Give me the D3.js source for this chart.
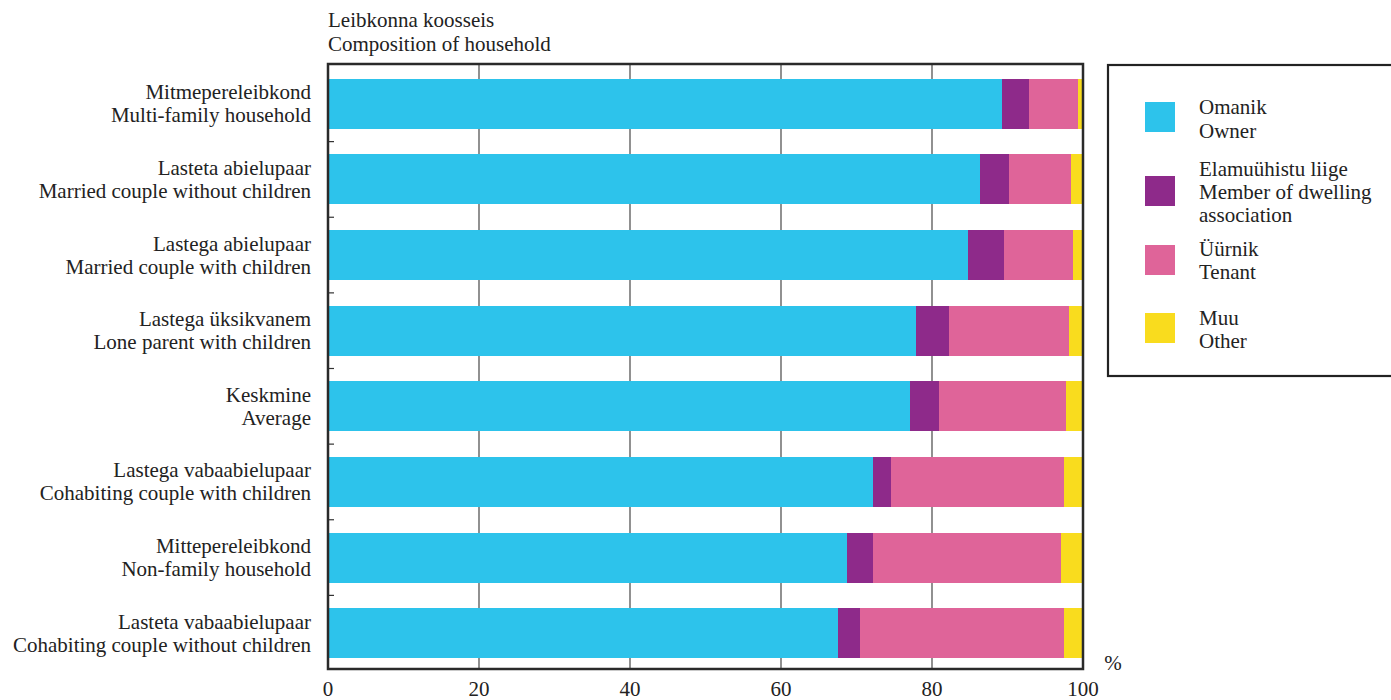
<!DOCTYPE html>
<html><head><meta charset="utf-8">
<script src="https://cdn.jsdelivr.net/npm/d3@7"></script>
<style>body{margin:0;background:#fff;}</style>
</head><body>
<svg id="chart" width="1391" height="700" font-family="'Liberation Serif', 'Times New Roman', Times, 'DejaVu Serif', serif"></svg>
<script>
const categoriesEt = ["Mitmepereleibkond","Lasteta abielupaar","Lastega abielupaar","Lastega üksikvanem","Keskmine","Lastega vabaabielupaar","Mittepereleibkond","Lasteta vabaabielupaar"];
const categoriesEn = ["Multi-family household","Married couple without children","Married couple with children","Lone parent with children","Average","Cohabiting couple with children","Non-family household","Cohabiting couple without children"];
const owner  = [89.3, 86.4, 84.8, 77.9, 77.1, 72.2, 68.7, 67.5];
const member = [3.5, 3.8, 4.7, 4.4, 3.8, 2.4, 3.5, 3.0];
const tenant = [6.5, 8.2, 9.2, 15.8, 16.8, 22.9, 24.9, 27.0];
const other  = [0.7, 1.6, 1.3, 1.9, 2.3, 2.5, 2.9, 2.5];
const seriesKeys = ["owner","member","tenant","other"];
const seriesEt = ["Omanik","Elamuühistu liige","Üürnik","Muu"];
const seriesEn = [["Owner"],["Member of dwelling","association"],["Tenant"],["Other"]];
const colors = ["#2DC3EB","#8E2A8A","#DF6499","#F9DC1E"];
const xTicks = [0,20,40,60,80,100];

const data = categoriesEt.map((c,i)=>({cat:c, owner:owner[i], member:member[i], tenant:tenant[i], other:other[i]}));

const svg = d3.select("#chart");
const FF = "'Liberation Serif', 'Times New Roman', Times, 'DejaVu Serif', serif";
const FS = 21;
const L=328, R=1083, T=64, B=669;
const x = d3.scaleLinear().domain([0,100]).range([L,R]);
const y = d3.scaleBand().domain(categoriesEt).range([66,671]).paddingInner(0.338).paddingOuter(0.169);
const color = d3.scaleOrdinal().domain(seriesKeys).range(colors);

// gridlines
svg.append("g").selectAll("line").data(xTicks.slice(1,-1)).join("line")
  .attr("x1",d=>x(d)).attr("x2",d=>x(d)).attr("y1",T).attr("y2",B)
  .attr("stroke","#555").attr("stroke-width",1.3);

// bars
const stack = d3.stack().keys(seriesKeys)(data);
svg.append("g").selectAll("g").data(stack).join("g")
  .attr("fill",d=>color(d.key))
  .selectAll("rect").data(d=>d).join("rect")
  .attr("x",d=>x(d[0])).attr("width",d=>x(d[1])-x(d[0]))
  .attr("y",d=>y(d.data.cat)).attr("height",y.bandwidth())
  .attr("shape-rendering","crispEdges");

// band separator ticks on left
const step = y.step();
svg.append("g").selectAll("line").data(categoriesEt.slice(1)).join("line")
  .attr("x1",L).attr("x2",L+6)
  .attr("y1",d=>y(d)-(step-y.bandwidth())/2).attr("y2",d=>y(d)-(step-y.bandwidth())/2)
  .attr("stroke","#333").attr("stroke-width",1.2);

// frame
svg.append("rect").attr("x",L).attr("y",T).attr("width",R-L).attr("height",B-T)
  .attr("fill","none").attr("stroke","#2a2a2a").attr("stroke-width",2.5);

const txt = (sel)=>sel.attr("font-family",FF).attr("font-size",FS).attr("fill","#222");

// x tick labels
txt(svg.append("g").selectAll("text").data(xTicks).join("text"))
  .attr("x",d=>x(d)).attr("y",689).attr("text-anchor","middle").attr("dominant-baseline","central")
  .text(d=>d);
txt(svg.append("text")).attr("x",1113).attr("y",663).attr("text-anchor","middle").attr("dominant-baseline","central")
  .text("%");

// category labels
const cl = txt(svg.append("g").selectAll("text").data(categoriesEt).join("text"))
  .attr("text-anchor","end");
cl.append("tspan").attr("x",311).attr("y",d=>y(d)+y.bandwidth()/2-11.5).attr("dominant-baseline","central").text(d=>d);
cl.append("tspan").attr("x",311).attr("y",(d,i)=>y(d)+y.bandwidth()/2+11.5).attr("dominant-baseline","central").text((d,i)=>categoriesEn[i]);

// title
txt(svg.append("text")).attr("x",328).attr("y",20).attr("dominant-baseline","central").text("Leibkonna koosseis");
txt(svg.append("text")).attr("x",328).attr("y",44).attr("dominant-baseline","central").text("Composition of household");

// legend
svg.append("rect").attr("x",1108).attr("y",65).attr("width",320).attr("height",311)
  .attr("fill","none").attr("stroke","#222").attr("stroke-width",2.2);
const swY = [102, 176, 245, 313];
const textY = [[107,131],[169,192,215],[249,272],[318,341]];
seriesKeys.forEach((k,i)=>{
  svg.append("rect").attr("x",1145).attr("y",swY[i]).attr("width",30).attr("height",30).attr("fill",colors[i]);
  const lines = [seriesEt[i], ...seriesEn[i]];
  lines.forEach((t,j)=>{
    txt(svg.append("text")).attr("x",1199).attr("y",textY[i][j]).attr("dominant-baseline","central").text(t);
  });
});
</script>
</body></html>
